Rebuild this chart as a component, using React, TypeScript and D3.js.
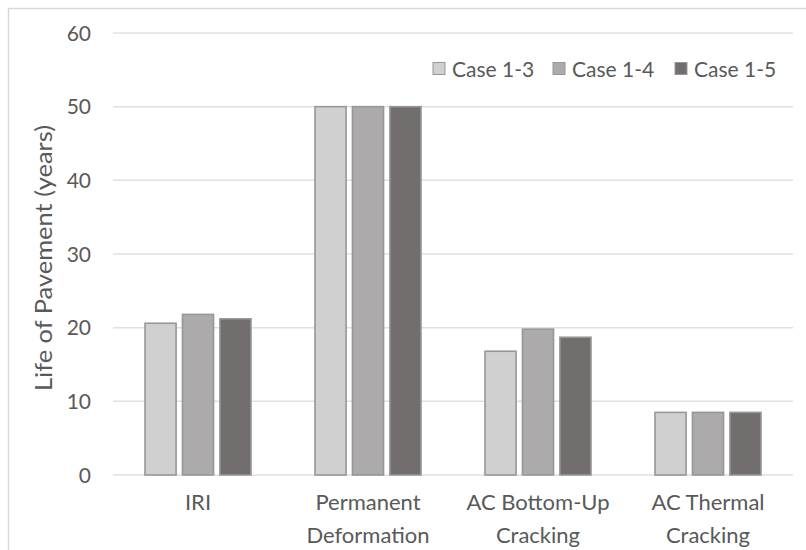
import React from "react";
import * as d3 from "d3";

const categories: string[][] = [["IRI"], ["Permanent", "Deformation"], ["AC Bottom-Up", "Cracking"], ["AC Thermal", "Cracking"]];
const seriesNames = ["Case 1-3", "Case 1-4", "Case 1-5"];
const case13 = [20.6, 50, 16.8, 8.5];
const case14 = [21.8, 50, 19.8, 8.5];
const case15 = [21.2, 50, 18.7, 8.5];
const yTicks = [0, 10, 20, 30, 40, 50, 60];
const colors = ["#d0d0d0", "#acaaaa", "#726e6e"];

export default function App() {
  const W = 806, H = 550;
  const left = 113, right = 793, top = 33, bottom = 475;
  const font = "Lato, sans-serif";
  const txt = "#595959";
  const fs = 21;
  const x = d3.scaleBand<number>().domain(d3.range(categories.length)).range([left, right]);
  const xi = d3.scaleBand<number>().domain([0, 1, 2]).range([0, 106]).paddingInner(0.17);
  const y = d3.scaleLinear().domain([0, 60]).range([bottom, top]);
  const series = [case13, case14, case15];
  const legendX = [433, 553, 675];
  return (
    <svg width={W} height={H} style={{ position: "absolute", left: 0, top: 0, background: "#fff" }}>
      <line x1={8.5} x2={8.5} y1={8} y2={H} stroke="#d9d9d9" strokeWidth={1.5} />
      <line x1={8} x2={W} y1={8.5} y2={8.5} stroke="#d9d9d9" strokeWidth={1.5} />
      {yTicks.map((t) => (
        <g key={t}>
          <line x1={left} x2={right} y1={y(t)} y2={y(t)} stroke="#e0e0e0" strokeWidth={1.5} />
          <text x={91} y={y(t)} dy="0.36em" textAnchor="end" fontFamily={font} fontSize={fs} fill={txt}>{t}</text>
        </g>
      ))}
      {series.map((s, si) =>
        s.map((v, ci) => {
          const bx = (x(ci) as number) + x.bandwidth() / 2 - 53 + (xi(si) as number);
          return (
            <rect key={si + "-" + ci} x={bx} y={y(v)} width={xi.bandwidth()} height={y(0) - y(v)}
              fill={colors[si]} stroke="#979797" strokeWidth={1.6} />
          );
        })
      )}
      {categories.map((lines, ci) => (
        <text key={ci} x={(x(ci) as number) + x.bandwidth() / 2} y={510} textAnchor="middle" fontFamily={font} fontSize={22} fill={txt}>
          {lines.map((l, li) => (
            <tspan key={li} x={(x(ci) as number) + x.bandwidth() / 2} dy={li === 0 ? 0 : 33}>{l}</tspan>
          ))}
        </text>
      ))}
      <text transform={`translate(52,${258}) rotate(-90)`} textAnchor="middle" fontFamily={font} fontSize={23}
        textLength={266} lengthAdjust="spacingAndGlyphs" fill={txt}>
        Life of Pavement (years)
      </text>
      {seriesNames.map((n, i) => {
        const lx = legendX[i];
        return (
          <g key={n}>
            <rect x={lx} y={62.5} width={12} height={12} fill={colors[i]} stroke="#979797" strokeWidth={1} />
            <text x={lx + 19} y={69} dy="0.36em" fontFamily={font} fontSize={fs} fill={txt}>{n}</text>
          </g>
        );
      })}
    </svg>
  );
}
